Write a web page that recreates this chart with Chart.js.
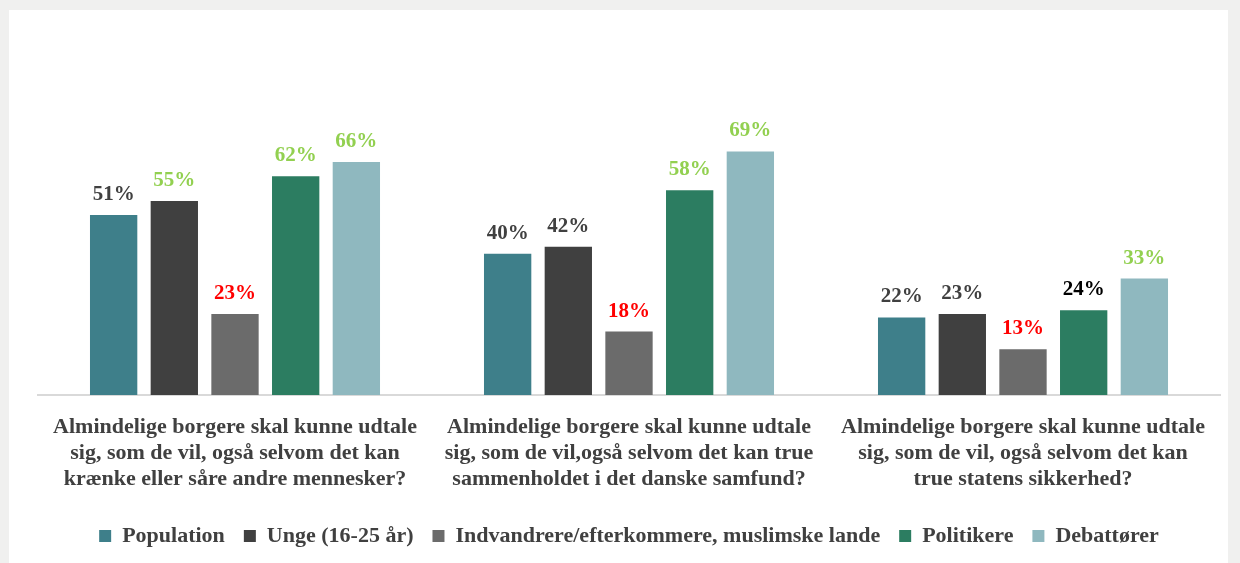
<!DOCTYPE html>
<html>
<head>
<meta charset="utf-8">
<script src="https://cdn.jsdelivr.net/npm/chart.js@4/dist/chart.umd.min.js"></script>
<style>
  html, body { margin: 0; padding: 0; }
  body { width: 1240px; height: 563px; background: #f0f0ef; position: relative; overflow: hidden; }
  #card { position: absolute; left: 9px; top: 10px; width: 1219px; height: 560px; background: #ffffff; }
  #wrap { position: absolute; left: 0; top: 0; width: 1240px; height: 563px; }
</style>
</head>
<body>
<div id="card"></div>
<div id="wrap"><canvas id="chart"></canvas></div>
<script>
// Kategorier (spørgsmål), delt i linjer som i originalen
const categories = [
  ['Almindelige borgere skal kunne udtale', 'sig, som de vil, også selvom det kan', 'krænke eller såre andre mennesker?'],
  ['Almindelige borgere skal kunne udtale', 'sig, som de vil,også selvom det kan true', 'sammenholdet i det danske samfund?'],
  ['Almindelige borgere skal kunne udtale', 'sig, som de vil, også selvom det kan', 'true statens sikkerhed?']
];

const seriesNames = ['Population', 'Unge (16-25 år)', 'Indvandrere/efterkommere, muslimske lande', 'Politikere', 'Debattører'];

// Andele i procent
const population = [51, 40, 22];
const unge = [55, 42, 23];
const indvandrere = [23, 18, 13];
const politikere = [62, 58, 24];
const debattorer = [66, 69, 33];

const barColors = ['#3e7f8a', '#404040', '#6b6b6b', '#2c7d61', '#8fb8bf'];

// Farve på værdi-etiketterne
const DARK = '#404040', GREEN = '#92d050', RED = '#ff0000', BLACK = '#000000';
const labelColors = [
  [DARK, DARK, DARK],
  [GREEN, DARK, DARK],
  [RED, RED, RED],
  [GREEN, GREEN, BLACK],
  [GREEN, GREEN, GREEN]
];

const FONT = "'Liberation Serif', 'Times New Roman', serif";

// Tegner procent-tallene over søjlerne
const valueLabels = {
  id: 'valueLabels',
  afterDatasetsDraw(chart) {
    const ctx = chart.ctx;
    ctx.save();
    ctx.font = 'bold 21px ' + FONT;
    ctx.textAlign = 'center';
    ctx.textBaseline = 'alphabetic';
    chart.data.datasets.forEach((ds, di) => {
      chart.getDatasetMeta(di).data.forEach((bar, i) => {
        ctx.fillStyle = labelColors[di][i];
        ctx.fillText(ds.data[i] + '%', bar.x, bar.y - 15);
      });
    });
    ctx.restore();
  }
};

const values = [population, unge, indvandrere, politikere, debattorer];

new Chart(document.getElementById('chart'), {
  type: 'bar',
  data: {
    labels: categories,
    datasets: values.map((v, i) => ({
      label: seriesNames[i],
      data: v,
      backgroundColor: barColors[i],
      borderWidth: 0,
      categoryPercentage: 0.77,
      barPercentage: 0.78
    }))
  },
  options: {
    responsive: true,
    maintainAspectRatio: false,
    animation: false,
    layout: { padding: { left: 38, right: 20, top: 42, bottom: 6 } },
    plugins: {
      legend: {
        position: 'bottom',
        labels: {
          color: '#404040',
          font: { family: FONT, size: 22, weight: 'bold' },
          boxWidth: 12,
          boxHeight: 12,
          padding: 19
        }
      },
      tooltip: { enabled: false }
    },
    scales: {
      x: {
        grid: { display: false },
        border: { display: true, color: '#d9d9d9', width: 2 },
        ticks: {
          color: '#404040',
          padding: 11,
          maxRotation: 0,
          autoSkip: false,
          font: { family: FONT, size: 22, weight: 'bold', lineHeight: 1.18 }
        },
        afterFit(scale) { scale.height += 3; }
      },
      y: {
        display: false,
        min: 0,
        max: 100
      }
    }
  },
  plugins: [valueLabels]
});
</script>
</body>
</html>
